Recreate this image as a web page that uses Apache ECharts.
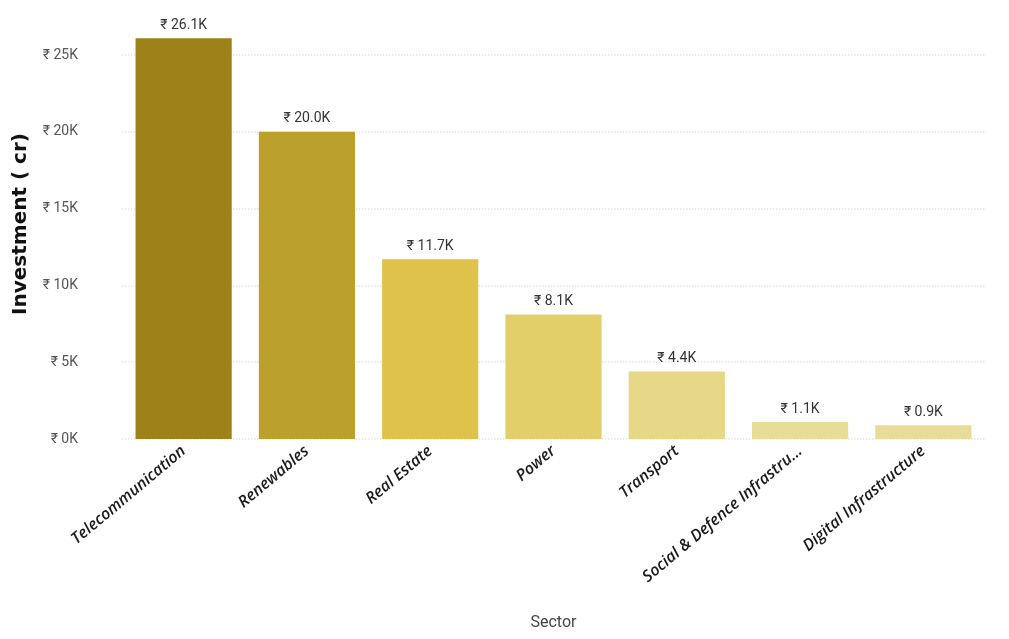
<!DOCTYPE html>
<html>
<head>
	<meta charset="UTF-8">
	<title>Investment by Sector</title>
	<style>
		html, body { margin: 0; padding: 0; background: #fff; }
		#container { width: 1009px; height: 639px; }
	</style>
</head>
<body>
<div id="container"></div>
<script src="https://cdn.jsdelivr.net/npm/echarts@6/dist/echarts.min.js"></script>
<script>
	// data
	var sectors = ['Telecommunication', 'Renewables', 'Real Estate', 'Power', 'Transport', 'Social & Defence Infrastructure', 'Digital Infrastructure'];
	var investment = [26100, 20000, 11700, 8100, 4400, 1100, 900];
	var barColors = ['#9c8219', '#bba12b', '#dfc24b', '#e2cf6a', '#e6d886', '#e8dd96', '#e8dd98'];
	var yTicks = [0, 5000, 10000, 15000, 20000, 25000];

	var myChart = echarts.init(document.getElementById('container'));

	var option = {
		animation: false,
		textStyle: { fontFamily: 'Roboto, "Noto Sans", sans-serif' },
		grid: { left: 122, right: 24, top: 9, bottom: 200 },
		xAxis: {
			type: 'category',
			data: sectors,
			name: 'Sector',
			nameLocation: 'middle',
			nameGap: 176,
			nameTextStyle: { fontSize: 16, color: '#444' },
			axisLine: { show: false },
			axisTick: { show: false },
			axisLabel: {
				rotate: 40,
				interval: 0,
				margin: 10,
				fontSize: 16,
				fontStyle: 'italic',
				fontWeight: 600,
				fontFamily: '"Open Sans", sans-serif',
				color: '#1a1a1a',
				formatter: function (v) {
					return v.length > 26 ? v.slice(0, 26) + '...' : v;
				}
			}
		},
		yAxis: {
			type: 'value',
			min: 0,
			max: 28000,
			interval: 5000,
			name: 'Investment ( cr)',
			nameLocation: 'middle',
			nameGap: 91,
			nameTextStyle: { fontSize: 20, fontWeight: 900, color: '#111', fontFamily: '"DejaVu Sans", sans-serif' },
			axisLine: { show: false },
			axisTick: { show: false },
			axisLabel: {
				fontSize: 14,
				color: '#555',
				margin: 44,
				formatter: function (v) {
					return yTicks.indexOf(v) >= 0 ? '₹ ' + (v / 1000) + 'K' : '';
				}
			},
			splitLine: { showMaxLine: false, lineStyle: { color: '#e4e4e4', type: 'dotted', width: 1.5 } }
		},
		series: [{
			name: 'Investment',
			type: 'bar',
			barCategoryGap: '22%',
			data: investment.map(function (v, i) {
				return { value: v, itemStyle: { color: barColors[i] } };
			}),
			label: {
				show: true,
				position: 'top',
				distance: 6,
				fontSize: 14,
				color: '#333',
				formatter: function (p) {
					return '₹ ' + (p.value / 1000).toFixed(1) + 'K';
				}
			}
		}]
	};

	myChart.setOption(option, true);
</script>
</body>
</html>
